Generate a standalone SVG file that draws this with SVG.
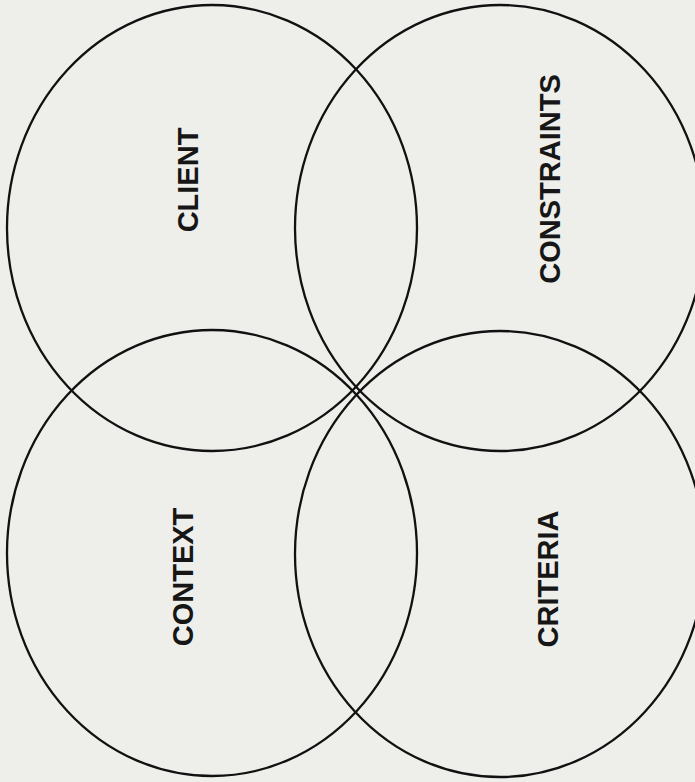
<svg xmlns="http://www.w3.org/2000/svg" width="695" height="782" viewBox="0 0 695 782">
<style>
.ring{fill:none;stroke:#111111;stroke-width:2.3}
.lbl{font-family:"Liberation Sans",Arial,sans-serif;font-weight:bold;font-size:29px;fill:#161616;text-anchor:middle}
</style>
<rect width="695" height="782" fill="#eeefeb"/>
<g id="client">
<ellipse class="ring" cx="212" cy="228" rx="205" ry="223"/>
<text class="lbl" transform="translate(198,180) rotate(-90)">CLIENT</text>
</g>
<g id="constraints">
<ellipse class="ring" cx="500" cy="228" rx="205" ry="223"/>
<text class="lbl" transform="translate(560,179) rotate(-90)">CONSTRAINTS</text>
</g>
<g id="context">
<ellipse class="ring" cx="212" cy="553" rx="205" ry="223"/>
<text class="lbl" transform="translate(193,577) rotate(-90)">CONTEXT</text>
</g>
<g id="criteria">
<ellipse class="ring" cx="500" cy="554" rx="205" ry="223"/>
<text class="lbl" transform="translate(558,579) rotate(-90)">CRITERIA</text>
</g>
<g id="connectors"/>
</svg>
